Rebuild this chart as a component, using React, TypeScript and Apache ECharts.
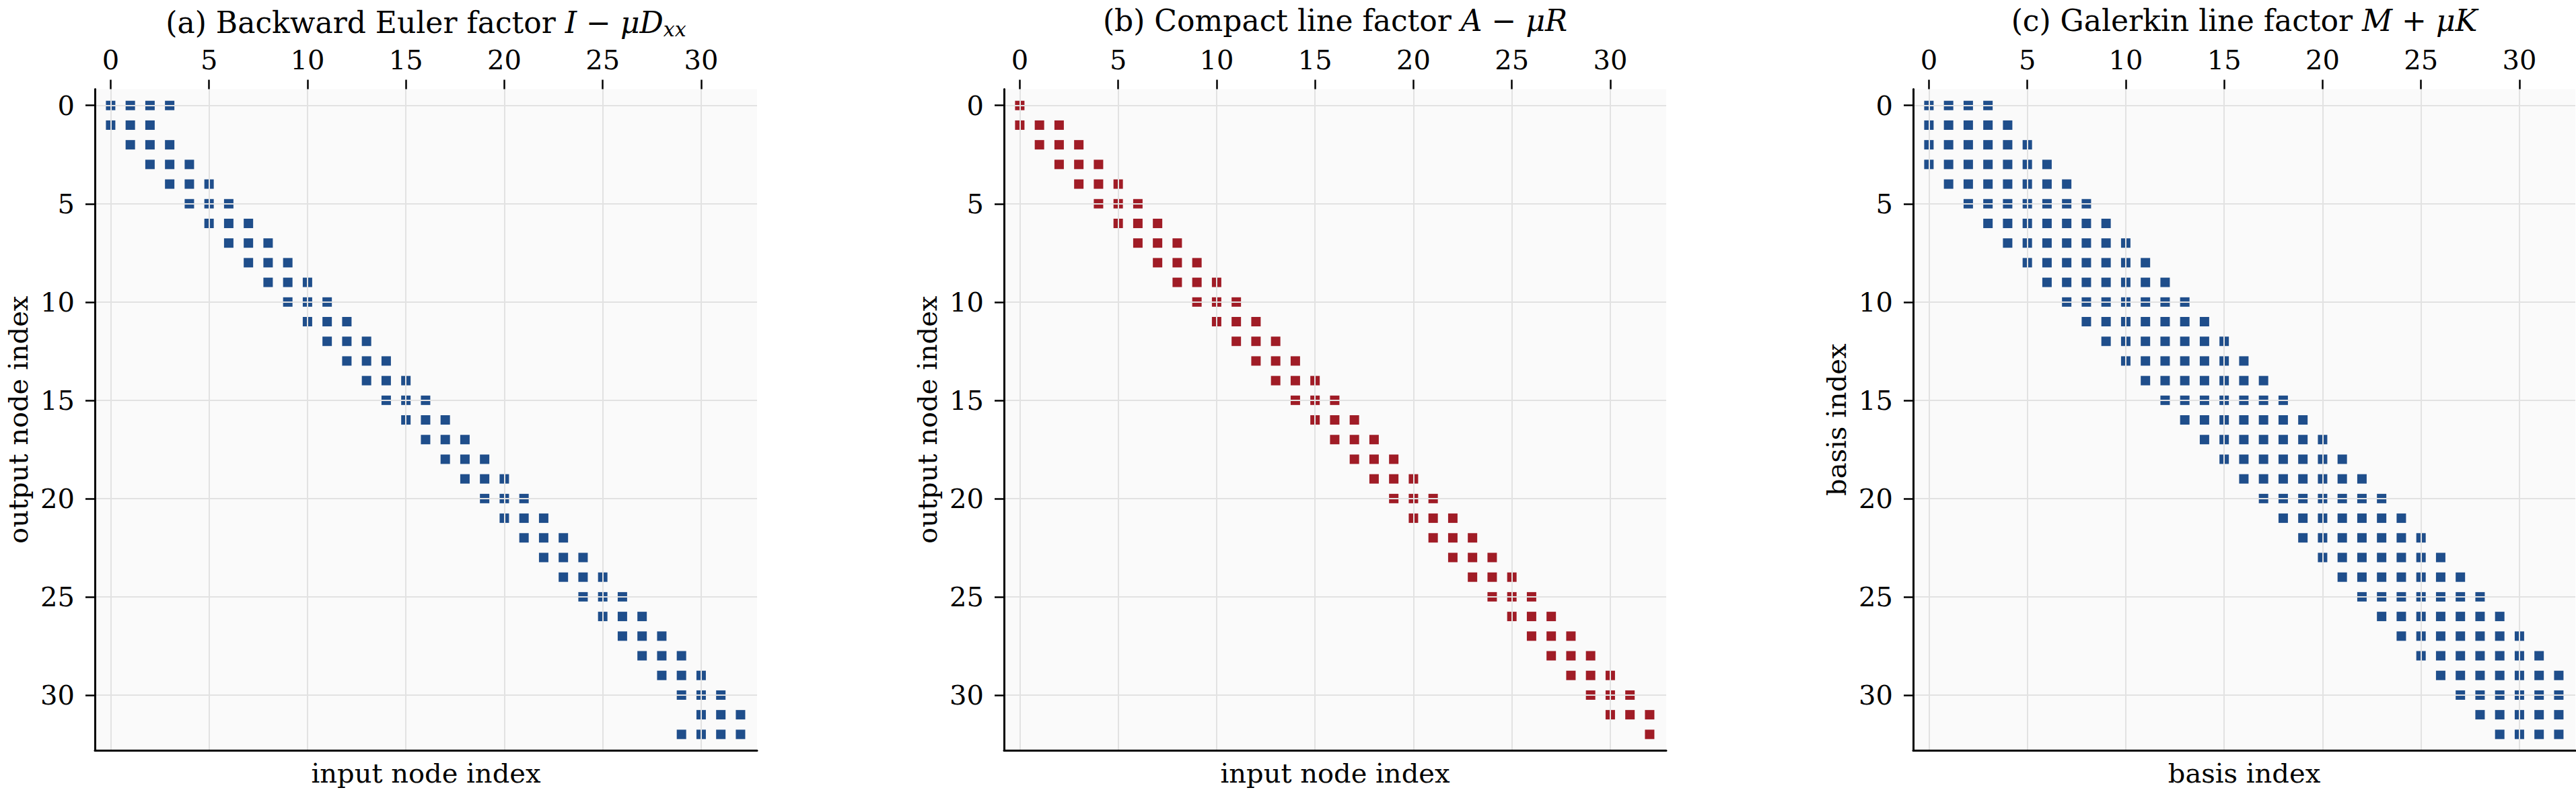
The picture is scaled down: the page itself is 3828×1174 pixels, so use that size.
import React, { useEffect, useRef } from "react";
import * as echarts from "echarts";

// Tick labels shared by all axes
const tickValues = [0, 5, 10, 15, 20, 25, 30];

// Sparsity pattern: for each row (0..32), first and last non-zero column
// (a) Backward Euler factor I - mu*Dxx
const aStart = [0, 0, 1, 2, 3, 4, 5, 6, 7, 8, 9, 10, 11, 12, 13, 14, 15, 16, 17, 18, 19, 20, 21, 22, 23, 24, 25, 26, 27, 28, 29, 30, 29];
const aEnd = [3, 2, 3, 4, 5, 6, 7, 8, 9, 10, 11, 12, 13, 14, 15, 16, 17, 18, 19, 20, 21, 22, 23, 24, 25, 26, 27, 28, 29, 30, 31, 32, 32];
// (b) Compact line factor A - mu*R
const bStart = [0, 0, 1, 2, 3, 4, 5, 6, 7, 8, 9, 10, 11, 12, 13, 14, 15, 16, 17, 18, 19, 20, 21, 22, 23, 24, 25, 26, 27, 28, 29, 30, 32];
const bEnd = [0, 2, 3, 4, 5, 6, 7, 8, 9, 10, 11, 12, 13, 14, 15, 16, 17, 18, 19, 20, 21, 22, 23, 24, 25, 26, 27, 28, 29, 30, 31, 32, 32];
// (c) Galerkin line factor M + mu*K
const cStart = [0, 0, 0, 0, 1, 2, 3, 4, 5, 6, 7, 8, 9, 10, 11, 12, 13, 14, 15, 16, 17, 18, 19, 20, 21, 22, 23, 24, 25, 26, 27, 28, 29];
const cEnd = [3, 4, 5, 6, 7, 8, 9, 10, 11, 12, 13, 14, 15, 16, 17, 18, 19, 20, 21, 22, 23, 24, 25, 26, 27, 28, 29, 30, 31, 32, 32, 32, 32];

const titles = [
  "{n|(a) Backward Euler factor }{i|I}{n| − }{i|μD}{s|xx}",
  "{n|(b) Compact line factor }{i|A}{n| − }{i|μR}",
  "{n|(c) Galerkin line factor }{i|M}{n| + }{i|μK}",
];
const xNames = ["input node index", "input node index", "basis index"];
const yNames = ["output node index", "output node index", "basis index"];
const starts = [aStart, bStart, cStart];
const ends = [aEnd, bEnd, cEnd];
const colors = ["#1f4e8b", "#a01c26", "#1f4e8b"];

const FONT = "DejaVu Serif";

function pointsOf(start: number[], end: number[]) {
  const pts: number[][] = [];
  start.forEach((s, row) => {
    for (let col = s; col <= end[row]; col++) pts.push([col, row]);
  });
  return pts;
}

export default function App() {
  const ref = useRef<HTMLDivElement>(null);
  useEffect(() => {
    const chart = echarts.init(ref.current as HTMLDivElement, null, { renderer: "svg" });
    const lefts = [141, 1492, 2843];
    const top = 132.5;
    const size = 984;
    const grid: any[] = [];
    const xAxis: any[] = [];
    const yAxis: any[] = [];
    const series: any[] = [];
    const title: any[] = [];
    const labelStyle = { fontSize: 40, fontFamily: FONT, color: "#000" };
    const split = { show: true, lineStyle: { color: "#e2e2e2", width: 2 } };
    const tt = { fontSize: 44, fontFamily: FONT, color: "#000", fontWeight: "normal" as const };
    for (let k = 0; k < 3; k++) {
      grid.push({
        left: lefts[k],
        top,
        width: size,
        height: size,
        show: true,
        backgroundColor: "#fafafa",
        borderWidth: 0,
      });
      xAxis.push({
        type: "value",
        gridIndex: k,
        position: "top",
        min: -0.8,
        max: 32.84,
        z: 10,
        axisLine: { show: false, onZero: false },
        axisTick: { show: true, length: 14, customValues: tickValues, lineStyle: { color: "#000", width: 2.5 } },
        axisLabel: { customValues: tickValues, margin: 24, ...labelStyle },
        splitLine: split,
      });
      xAxis.push({
        type: "value",
        gridIndex: k,
        position: "bottom",
        min: -0.8,
        max: 32.84,
        z: 10,
        axisLine: { show: true, onZero: false, lineStyle: { color: "#000", width: 3 } },
        axisTick: { show: false },
        axisLabel: { show: false },
        splitLine: { show: false },
        name: xNames[k],
        nameLocation: "middle",
        nameGap: 14,
        nameTextStyle: { ...labelStyle, verticalAlign: "top" },
      });
      yAxis.push({
        type: "value",
        gridIndex: k,
        inverse: true,
        min: -0.83,
        max: 32.81,
        z: 10,
        axisLine: { show: true, onZero: false, lineStyle: { color: "#000", width: 3 } },
        axisTick: { show: true, length: 14, customValues: tickValues, lineStyle: { color: "#000", width: 2.5 } },
        axisLabel: { customValues: tickValues, margin: 30, ...labelStyle },
        splitLine: split,
        name: yNames[k],
        nameLocation: "middle",
        nameGap: 94,
        nameTextStyle: { ...labelStyle },
      });
      series.push({
        type: "scatter",
        xAxisIndex: 2 * k,
        yAxisIndex: k,
        symbol: "rect",
        symbolSize: 14,
        itemStyle: { color: colors[k], opacity: 1 },
        data: pointsOf(starts[k], ends[k]),
      });
      title.push({
        text: titles[k],
        left: lefts[k] + size / 2,
        top: 8,
        padding: 0,
        textAlign: "center",
        textStyle: {
          fontWeight: "normal",
          fontFamily: FONT,
          fontSize: 44,
          rich: {
            n: { ...tt },
            i: { ...tt, fontStyle: "italic" },
            s: { ...tt, fontSize: 30, fontStyle: "italic", padding: [20, 0, 0, 0] },
          },
        },
      });
    }
    chart.setOption({
      animation: false,
      backgroundColor: "#ffffff",
      title,
      grid,
      xAxis,
      yAxis,
      series,
    });
    return () => chart.dispose();
  }, []);
  return (
    <div
      ref={ref}
      style={{ position: "fixed", left: 0, top: 0, width: 3828, height: 1174 }}
    />
  );
}
